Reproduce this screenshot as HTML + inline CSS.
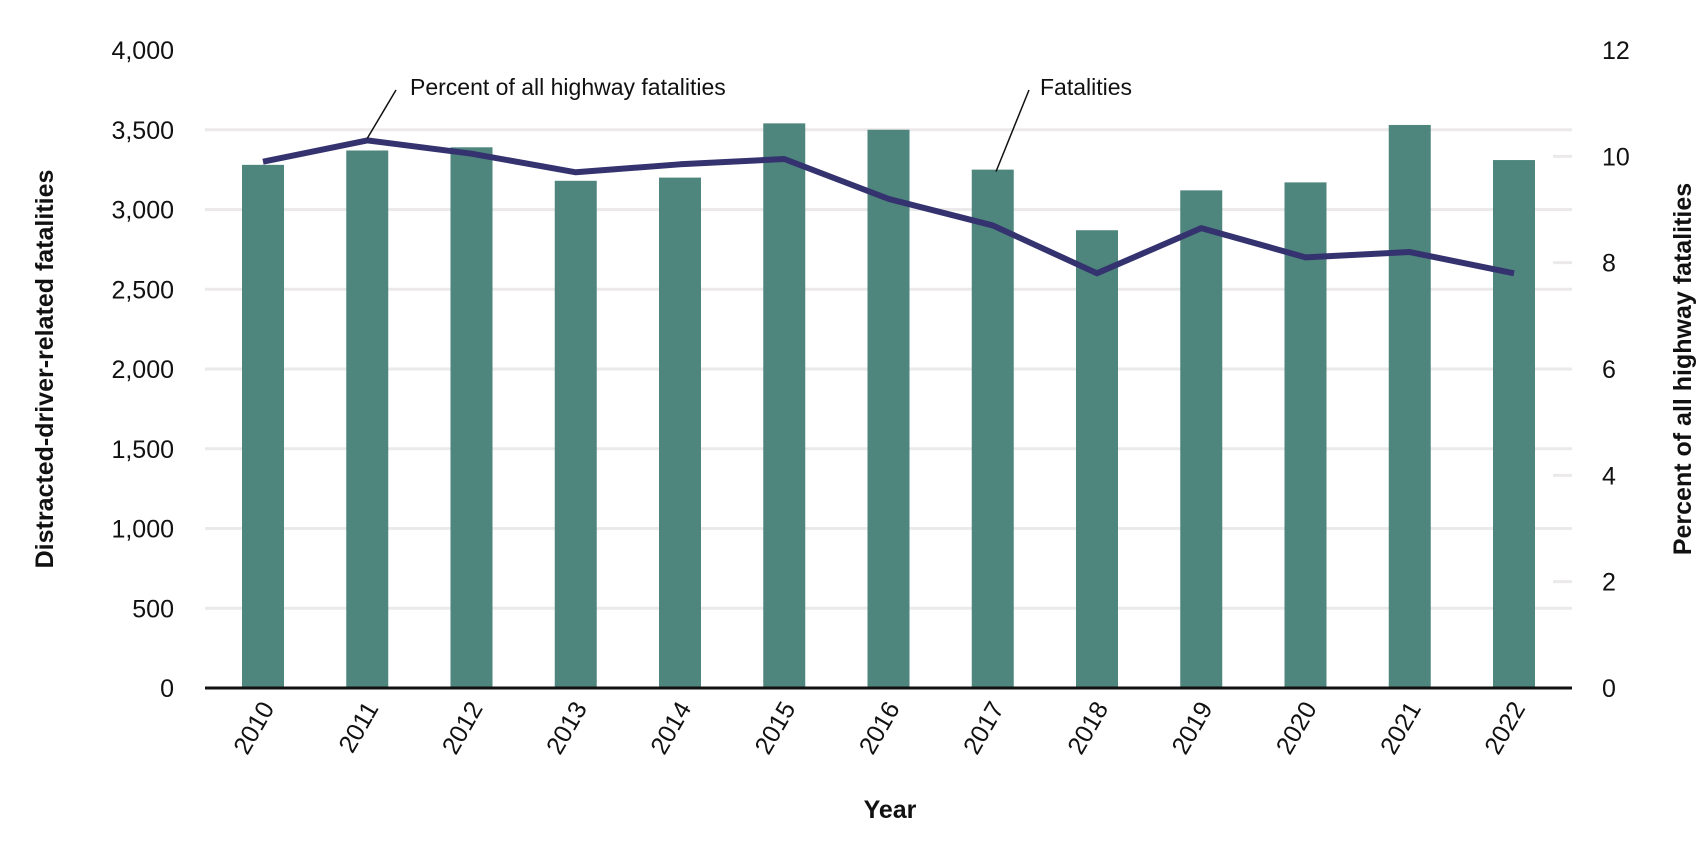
<!DOCTYPE html>
<html><head><meta charset="utf-8"><style>
body{margin:0;background:#fff;}
svg{display:block;font-family:"Liberation Sans",Arial,sans-serif;}
</style></head><body>
<svg id="chart" width="1700" height="846" viewBox="0 0 1700 846" xmlns="http://www.w3.org/2000/svg"></svg>
<script>
const years=["2010","2011","2012","2013","2014","2015","2016","2017","2018","2019","2020","2021","2022"];
const fatalities=[3280,3370,3390,3180,3200,3540,3500,3250,2870,3120,3170,3530,3310];
const percents=[9.9,10.3,10.05,9.7,9.85,9.95,9.2,8.7,7.8,8.65,8.1,8.2,7.8];
const leftTicks=[0,500,1000,1500,2000,2500,3000,3500,4000];
const leftTickLabels=["0","500","1,000","1,500","2,000","2,500","3,000","3,500","4,000"];
const rightTicks=[0,2,4,6,8,10,12];

const svg=document.getElementById('chart');
const NS='http://www.w3.org/2000/svg';
const X0=205,X1=1572,Y0=688,Y1=50;
const step=104.25,first=263,barW=42;
const xc=i=>first+i*step;
const yL=v=>Y0-(v/4000)*(Y0-Y1);
const yR=v=>Y0-(v/12)*(Y0-Y1);
function el(t,a,txt){const e=document.createElementNS(NS,t);for(const k in a)e.setAttribute(k,a[k]);if(txt!==undefined)e.textContent=txt;svg.appendChild(e);return e;}

leftTicks.forEach((v,i)=>{
  if(v>0&&v<4000){const g=el('line',{x1:X0,x2:X1,y1:yL(v),y2:yL(v),stroke:'#ebe9e9','stroke-width':3});
  
  }
  const t=el('text',{x:174,y:yL(v)+9,'text-anchor':'end','font-size':25,fill:'#111'},leftTickLabels[i]);
  
  
});
rightTicks.forEach(v=>{
  if(v>0&&v<12){const m=el('line',{x1:1553,x2:X1,y1:yR(v),y2:yR(v),stroke:'#ebe9e9','stroke-width':3});
  
  }
  const t=el('text',{x:1602,y:yR(v)+9,'font-size':25,fill:'#111'},String(v));
  
  
});
fatalities.forEach((v,i)=>{
  const r=el('rect',{x:xc(i)-barW/2,y:yL(v),width:barW,height:Y0-yL(v),fill:'#4e857d'});
  
  
  const t=el('text',{transform:`translate(${xc(i)+12},${Y0+20}) rotate(-60)`,'text-anchor':'end','font-size':25,fill:'#111'},years[i]);
  
  
});
const base=el('line',{x1:X0,x2:X1,y1:Y0,y2:Y0,stroke:'#111','stroke-width':3});


const pl=el('polyline',{points:percents.map((v,i)=>xc(i)+','+yR(v)).join(' '),fill:'none',stroke:'#35336f','stroke-width':6,'stroke-linejoin':'round'});



const a1=el('line',{x1:396,y1:90,x2:xc(1),y2:yR(percents[1])-2,stroke:'#111','stroke-width':1.5});


const t1=el('text',{x:410,y:95,'font-size':23,fill:'#111'},'Percent of all highway fatalities');


const a2=el('line',{x1:1029,y1:90,x2:996,y2:yL(fatalities[7])+2,stroke:'#111','stroke-width':1.5});


const t2=el('text',{x:1040,y:95,'font-size':23,fill:'#111'},'Fatalities');



const yt=el('text',{transform:'translate(53,369) rotate(-90)','text-anchor':'middle','font-size':25,'font-weight':'bold',fill:'#111'},'Distracted-driver-related fatalities');


const rt=el('text',{transform:'translate(1691,369) rotate(-90)','text-anchor':'middle','font-size':25,'font-weight':'bold',fill:'#111'},'Percent of all highway fatalities');


const xt=el('text',{x:890,y:818,'text-anchor':'middle','font-size':25,'font-weight':'bold',fill:'#111'},'Year');


</script>
</body></html>
